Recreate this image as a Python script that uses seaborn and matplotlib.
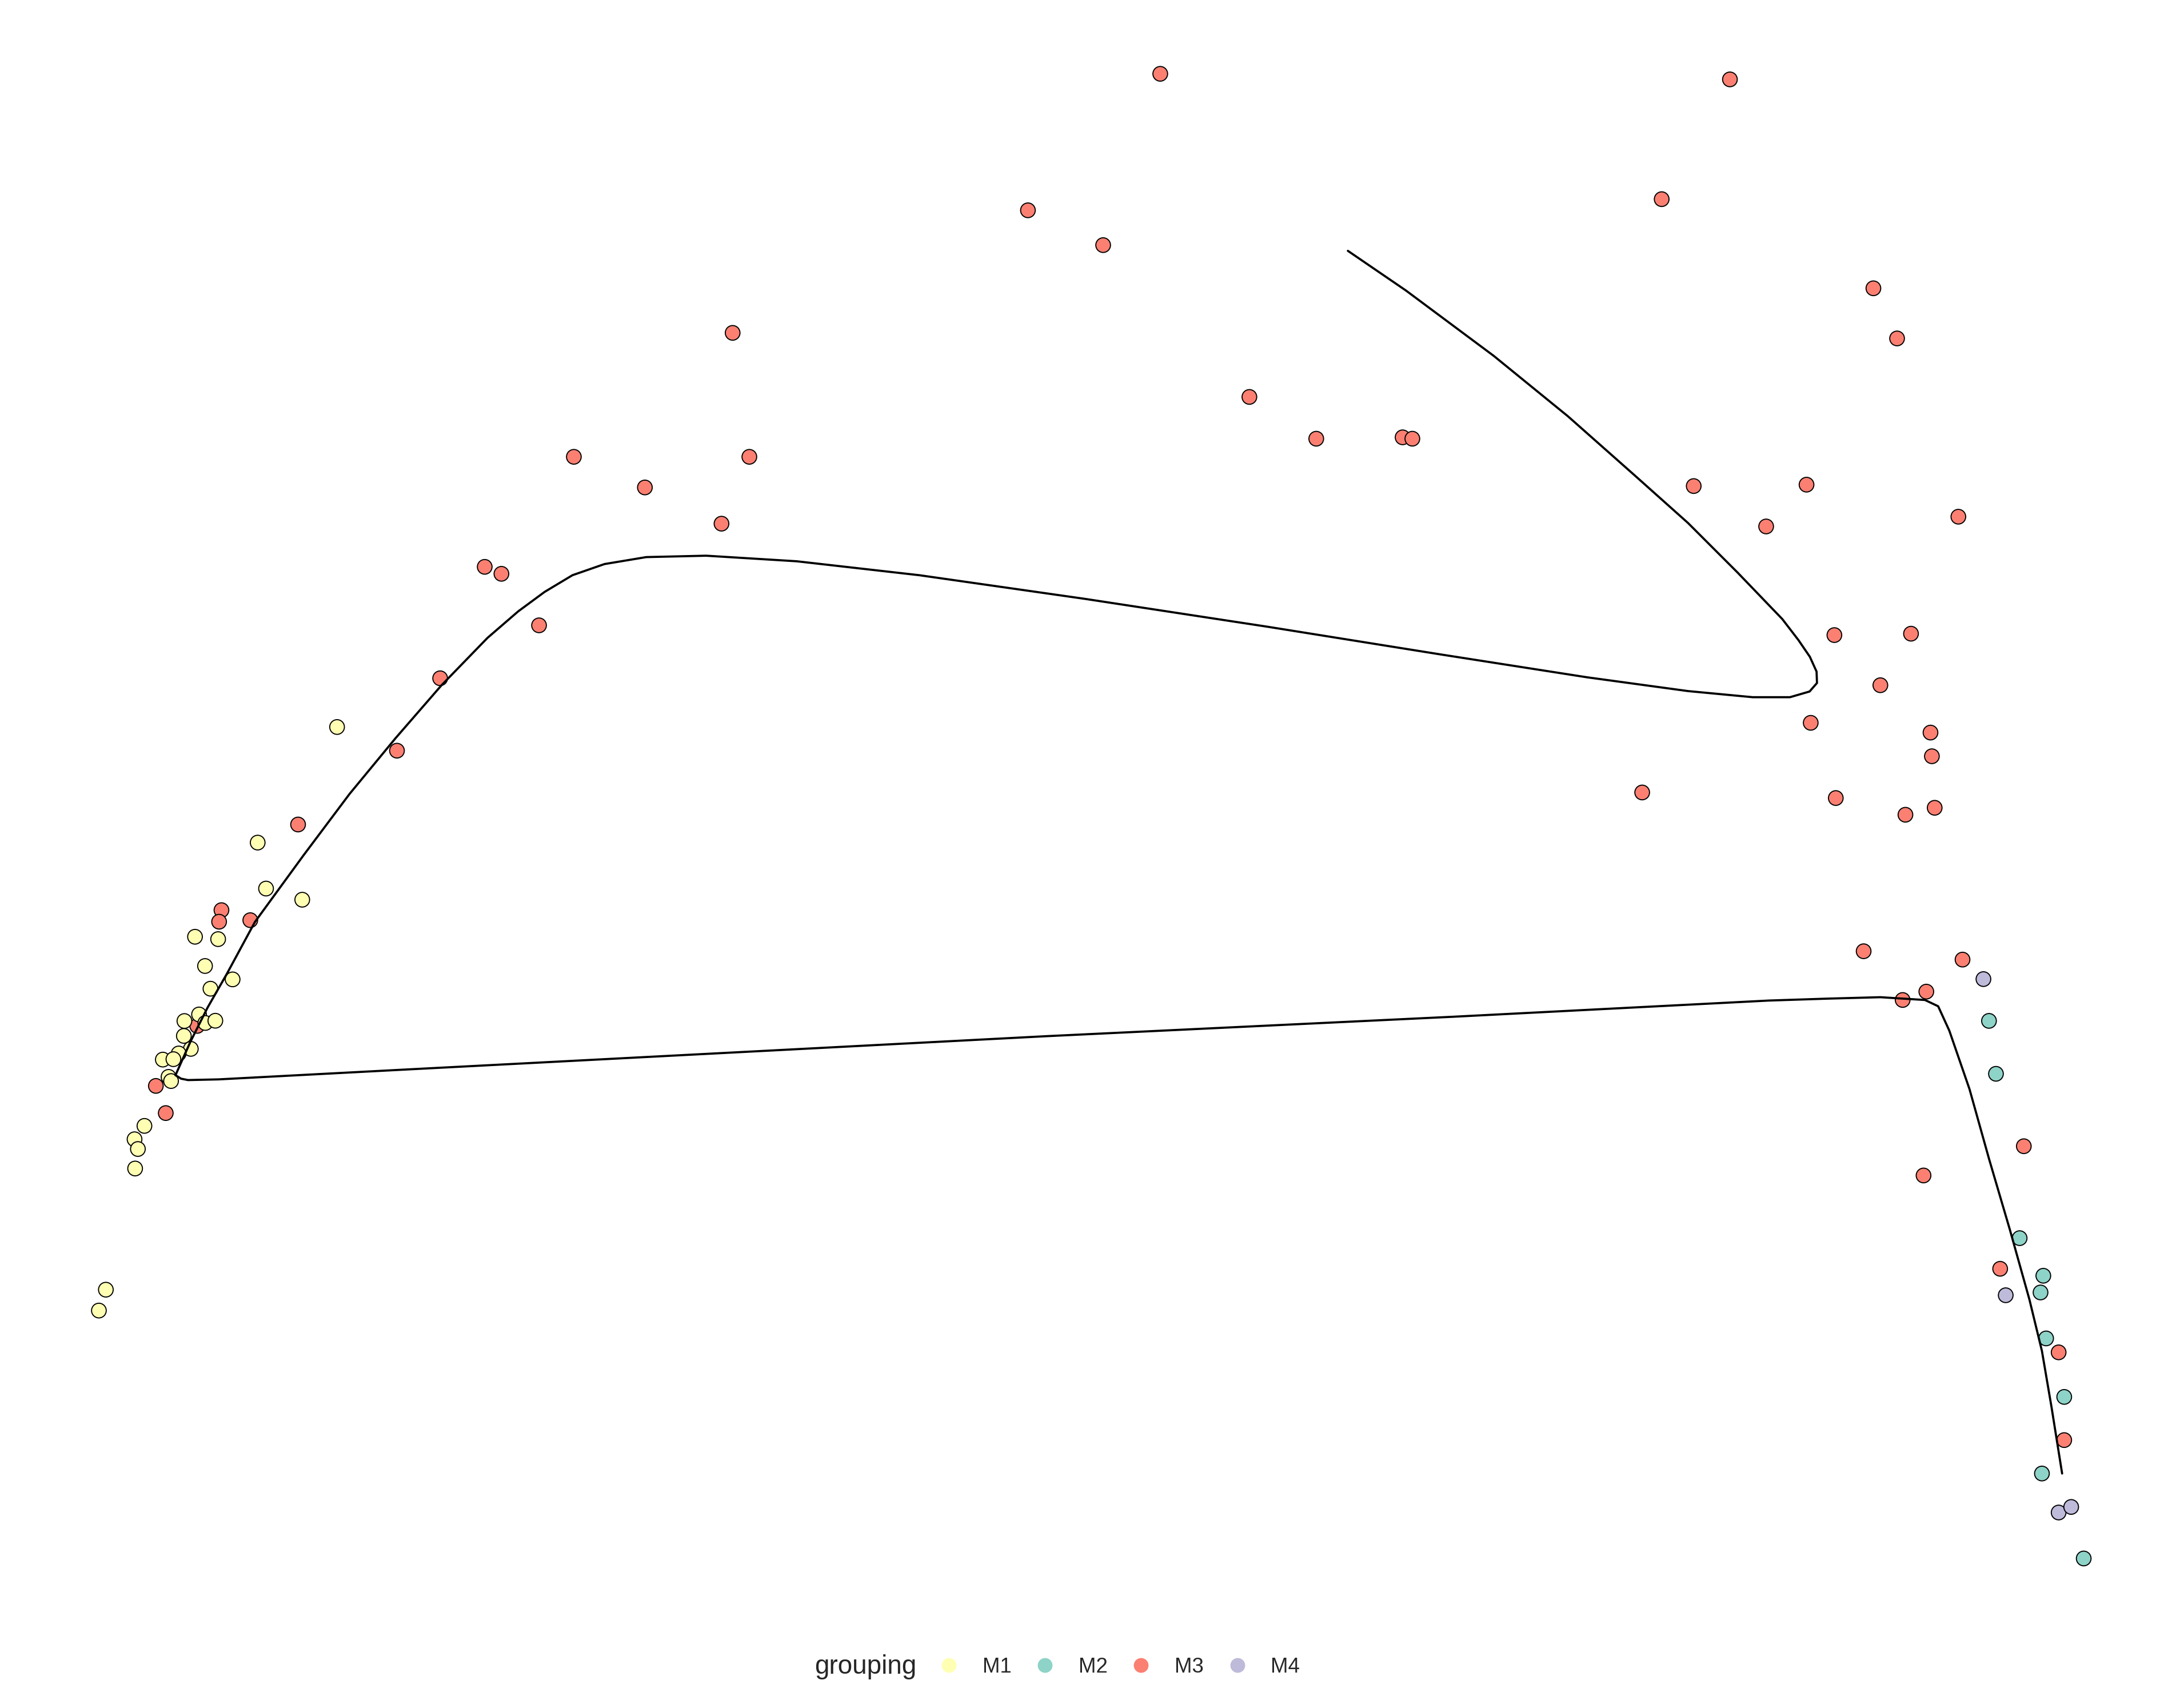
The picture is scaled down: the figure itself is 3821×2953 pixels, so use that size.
import pandas as pd
import matplotlib.pyplot as plt
import seaborn as sns
from matplotlib.lines import Line2D

# ---- data (picture units: x right, y down) ----
m1_x = [242, 185, 191, 217, 140, 156.6, 147.2, 167, 151.1, 142.9, 132.4, 147.4, 154.6,
        132, 137, 128.3, 116.9, 124.5, 121, 122.8, 103.7, 96.6, 99, 97, 76, 71]
m1_y = [522, 605, 638, 646, 672.6, 674.3, 693.6, 703.2, 709.9, 728.4, 733.1, 734.5, 732.9,
        743.8, 753.1, 756.4, 760.8, 760.5, 773.2, 776.2, 808.4, 818, 825, 839, 926, 941]

m2_x = [1428, 1433, 1450, 1467, 1465, 1469, 1482, 1466, 1496]
m2_y = [733, 771, 889, 916, 928, 961, 1003, 1058, 1119]

m3_x = [833, 1242, 738, 1193, 792, 1345, 1362, 526, 897, 945, 1007, 1014, 412, 538, 463,
        1216, 1297, 518, 1268, 1406, 348, 360, 387, 1317, 1372, 316, 1350, 1300, 1386, 1387,
        285, 1179, 1318, 1368, 1389, 214, 159, 157.3, 179.7, 1338, 1409, 1366, 1383, 111.9,
        119, 1453, 1381, 1436, 1478, 1482, 141.6]
m3_y = [53, 57, 151, 143, 176, 207, 243, 239, 285, 315, 314, 315, 328, 328, 350,
        349, 348, 376, 378, 371, 407, 412, 449, 456, 455, 487, 492, 519, 526, 543,
        539, 569, 573, 585, 580, 592, 653.5, 661.8, 660.7, 683, 689, 718, 712, 779.7,
        799.2, 823, 844, 911, 971, 1034, 736.6]

m4_x = [1424, 1440, 1478, 1487]
m4_y = [703, 930, 1086, 1082]

# lineage curves
curve1_x = [126, 130, 136.7, 149, 163, 183, 218, 251, 284, 317, 350, 372, 391, 411, 434,
            464, 507, 572, 660, 779, 910, 1035, 1139.4, 1211.9, 1258.4, 1285.1, 1299.2,
            1304.5, 1304.2, 1299.4, 1291.2, 1279.6, 1247.4, 1211.9, 1173.6, 1125.7, 1072.4,
            1009.4, 967.7]
curve1_y = [772, 763, 748, 723.5, 699, 662, 614, 570, 530, 492, 458, 439, 425, 413, 405,
            400, 399, 403, 413, 430, 450, 470, 486.3, 496.2, 500.6, 500.6, 496.5,
            490.4, 482.2, 471.6, 459.6, 444.5, 411, 375.5, 341.3, 298.9, 255.5,
            208.6, 180.1]

curve2_x = [126, 130, 135, 157, 290, 751, 1044, 1270, 1313, 1350, 1382, 1391.5, 1399.5,
            1414, 1428, 1443, 1457, 1466, 1473, 1480.5]
curve2_y = [772, 774.5, 775.5, 775, 768, 744, 730, 718.4, 717, 716, 718, 722.5, 740,
            782, 832, 883, 933, 970, 1011, 1058]

groups = ["M1", "M2", "M3", "M4"]
colors = {"M1": "#FFFFB3", "M2": "#8DD3C7", "M3": "#FB8072", "M4": "#BEBADA"}

# draw order: M3 first so M1 cells sit on top of it
df = pd.concat([
    pd.DataFrame({"x": m3_x, "y": m3_y, "grouping": "M3"}),
    pd.DataFrame({"x": m1_x, "y": m1_y, "grouping": "M1"}),
    pd.DataFrame({"x": m2_x, "y": m2_y, "grouping": "M2"}),
    pd.DataFrame({"x": m4_x, "y": m4_y, "grouping": "M4"}),
], ignore_index=True)

sns.set_style("white")
plt.rcParams['font.family'] = ['Liberation Sans', 'DejaVu Sans']

fig = plt.figure(figsize=(3821 / 300, 2953 / 300), dpi=300)
ax = fig.add_axes([0, 0, 1, 1])

sns.scatterplot(data=df, x="x", y="y", hue="grouping", palette=colors,
                s=38, edgecolor="black", linewidth=0.45, legend=False, ax=ax, zorder=2)

for cx, cy in [(curve1_x, curve1_y), (curve2_x, curve2_y)]:
    sns.lineplot(x=cx, y=cy, sort=False, estimator=None, color="black",
                 linewidth=0.9, ax=ax, zorder=3)

ax.set_xlim(0, 1568)
ax.set_ylim(1212, 0)
ax.set_axis_off()

# legend along the bottom, title on the left
ly = 1 - 1197 / 1212
fig.text(585 / 1568, ly, "grouping", fontsize=11, ha="left", va="center")
handles = [Line2D([], [], marker="o", linestyle="none", markersize=6.2,
                  markerfacecolor=colors[g], markeredgewidth=0) for g in groups]
fig.legend(handles, groups, ncol=4, loc="center", bbox_to_anchor=(803.5 / 1568, ly),
           frameon=False, fontsize=8.8, handlelength=1.0, handletextpad=1.1,
           columnspacing=1.1, borderaxespad=0)

fig.savefig("out.png", dpi=300)
